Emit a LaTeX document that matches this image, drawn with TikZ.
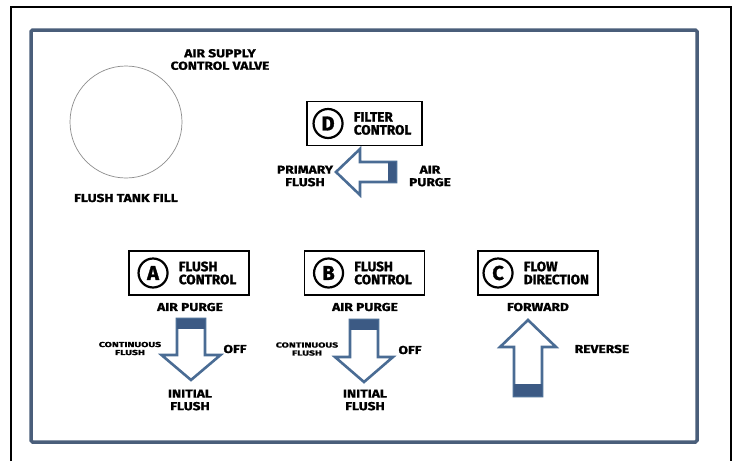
\documentclass[tikz,border=0pt]{standalone}
\usepackage{fontspec}
\setmainfont{Fira Sans}[FakeStretch=1.2, BoldFeatures={FakeBold=1.2}]
\newfontfamily\wideface{Fira Sans}[FakeStretch=1.45, BoldFeatures={FakeBold=1.2}]
\newfontfamily\discface{Fira Sans}[BoldFeatures={FakeBold=1.5}]
\usetikzlibrary{positioning}
\definecolor{panelblue}{HTML}{4A5E7A}
\definecolor{arrowblue}{HTML}{4A6C94}
\definecolor{plugblue}{HTML}{3C5A84}
\tikzstyle{lettering} = [align=center, inner sep=0pt, font=\bfseries\fontsize{11.5}{12.5}\selectfont]
\tikzstyle{tinylettering} = [align=center, inner sep=0pt, font=\wideface\bfseries\fontsize{7.2}{8}\selectfont]
\tikzstyle{switchbox} = [rectangle, draw=black, line width=1.1pt, minimum width=120pt, minimum height=44pt, inner sep=0pt]
\tikzstyle{letterdisc} = [circle, draw=black, line width=2.2pt, minimum size=29pt, inner sep=0pt, font=\discface\bfseries\fontsize{20}{20}\selectfont]
\tikzstyle{boxtext} = [align=left, inner sep=0pt, font=\discface\bfseries\fontsize{13.5}{13}\selectfont]
\tikzstyle{pointer} = [draw=arrowblue, line width=2.6pt, fill=white, line join=miter]
\tikzstyle{plug} = [fill=plugblue]

\begin{document}
\begin{tikzpicture}[x=1pt, y=-1pt]
      \useasboundingbox (0,0) rectangle (737,461);
      % frames
      \draw [line width=1.2pt] (11,461) -- (11,7) -- (731,7) -- (731,461);
      \draw [panelblue, line width=3.5pt, rounded corners=1.5pt] (31,30) rectangle (697,442);
      % air supply valve
      \node (valve) [circle, draw=black!45, line width=0.7pt, minimum size=112pt] at (126,122) {};
      \node (valvetxt) [lettering] at (220,59.5) {AIR SUPPLY\\CONTROL VALVE};
      \node (filltxt) [lettering] at (126,198) {FLUSH TANK FILL};
      % D filter control
      \node (boxD) [switchbox, minimum width=115pt] at (364.5,123.5) {};
      \node (discD) [letterdisc, right=6pt of boxD.west] {D};
      \node (txtD) [boxtext, right=10pt of discD] {FILTER\\CONTROL};
      \begin{scope}[shift={(396,172)}]
        \draw [pointer] (0,-10) -- (-36,-10) -- (-36,-23) -- (-60,0) -- (-36,23) -- (-36,10) -- (0,10) -- cycle;
        \fill [plug] (0,-10) rectangle (-8,10);
      \end{scope}
      \node (primary) [lettering] at (305,176) {PRIMARY\\FLUSH};
      \node (purgeD) [lettering] at (430,176) {AIR\\PURGE};
      % A flush control
      \node (boxA) [switchbox] at (189,273) {};
      \node (discA) [letterdisc, right=9pt of boxA.west] {A};
      \node (txtA) [boxtext, right=10pt of discA] {FLUSH\\CONTROL};
      \node (purgeA) [lettering] at (190,307) {AIR PURGE};
      \begin{scope}[shift={(191,319)}]
        \draw [pointer] (-14,0) -- (14,0) -- (14,36) -- (29.5,36) -- (0,61) -- (-29.5,36) -- (-14,36) -- cycle;
        \fill [plug] (-14,0) rectangle (14,10);
      \end{scope}
      \node (contA) [tinylettering] at (130,348.5) {CONTINUOUS\\FLUSH};
      \node (offA) [lettering] at (235,349) {OFF};
      \node (initA) [lettering] at (190,400) {INITIAL\\FLUSH};
      % B flush control
      \node (boxB) [switchbox] at (364.5,273) {};
      \node (discB) [letterdisc, right=9pt of boxB.west] {B};
      \node (txtB) [boxtext, right=10pt of discB] {FLUSH\\CONTROL};
      \node (purgeB) [lettering] at (365,307) {AIR PURGE};
      \begin{scope}[shift={(364,320)}]
        \draw [pointer] (-14,0) -- (14,0) -- (14,37) -- (29,37) -- (0,62) -- (-29,37) -- (-14,37) -- cycle;
        \fill [plug] (-14,0) rectangle (14,10);
      \end{scope}
      \node (contB) [tinylettering] at (307,349) {CONTINUOUS\\FLUSH};
      \node (offB) [lettering] at (410,350) {OFF};
      \node (initB) [lettering] at (365,400) {INITIAL\\FLUSH};
      % C flow direction
      \node (boxC) [switchbox] at (538,273) {};
      \node (discC) [letterdisc, right=5pt of boxC.west] {C};
      \node (txtC) [boxtext, right=10pt of discC] {FLOW\\DIRECTION};
      \node (fwd) [lettering] at (538,307) {FORWARD};
      \begin{scope}[shift={(528,396)}]
        \draw [pointer] (-14,0) -- (-14,-49) -- (-28,-49) -- (0,-76) -- (28,-49) -- (14,-49) -- (14,0) -- cycle;
        \fill [plug] (-14,0) rectangle (14,-12);
      \end{scope}
      \node (rev) [lettering] at (602,349) {REVERSE};
    \end{tikzpicture}
\end{document}
